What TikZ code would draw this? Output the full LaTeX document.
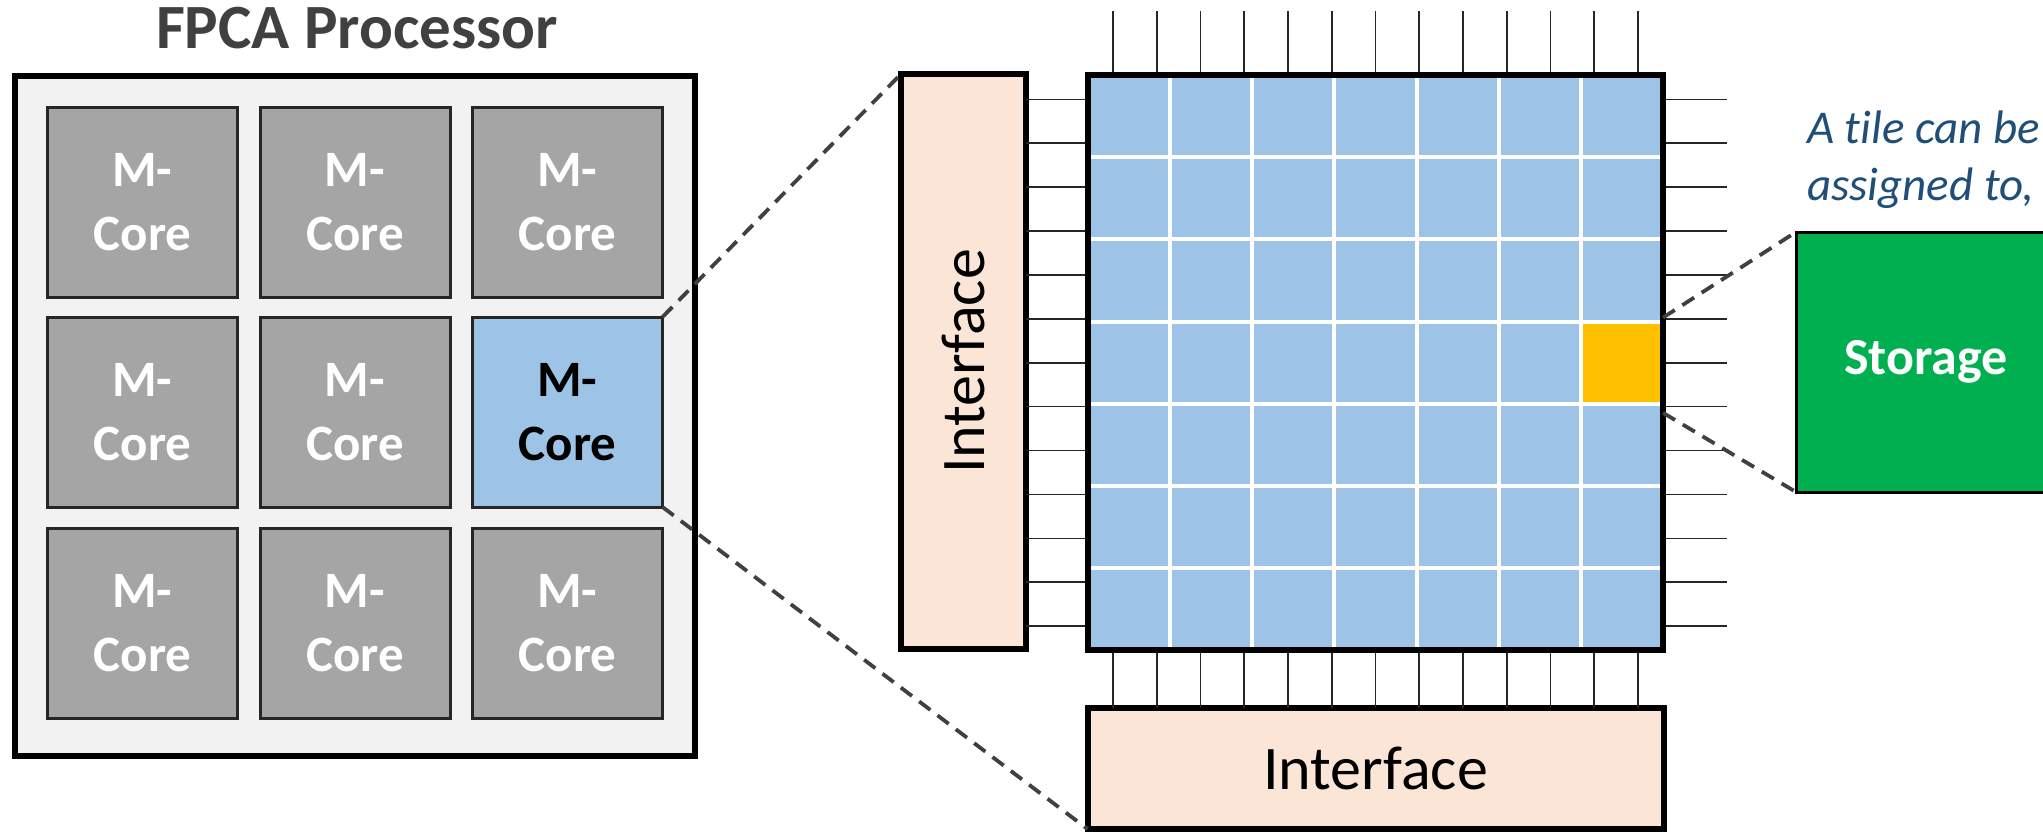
\documentclass[tikz,border=0pt]{standalone}
\usepackage{fontspec}
\setmainfont{Carlito}[Ligatures={TeX,NoCommon}]
\usetikzlibrary{calc}

\definecolor{panel}{HTML}{F2F2F2}
\definecolor{coregray}{HTML}{A5A5A5}
\definecolor{coreblue}{HTML}{9DC3E6}
\definecolor{tileorange}{HTML}{FFC000}
\definecolor{peach}{HTML}{FBE5D6}
\definecolor{storagegreen}{HTML}{00B050}
\definecolor{titlegray}{HTML}{404040}
\definecolor{notecolor}{HTML}{1F4E79}
\definecolor{zoomgray}{HTML}{404040}

\begin{document}
\begin{tikzpicture}[x=1pt,y=-1pt,
  every node/.style={inner sep=0pt, outer sep=0pt},
  thickbox/.style={draw=black, line width=6pt},
  core/.style={draw=black!85, line width=3pt, fill=coregray,
    minimum width=190pt, minimum height=190pt, text=white, align=center,
    font=\fontsize{51}{64}\selectfont\bfseries},
  hotcore/.style={core, fill=coreblue, text=black},
  tile/.style={draw=white, line width=4pt, fill=coreblue,
    minimum width=82.14pt, minimum height=82.2pt},
  iface/.style={thickbox, fill=peach, font=\fontsize{62}{74}\selectfont},
  pinline/.style={draw=black!85, line width=1.6pt},
  zoomline/.style={draw=zoomgray, line width=3.8pt, dash pattern=on 14pt off 9pt},
  note/.style={text=notecolor, anchor=base west, font=\fontsize{47}{57}\selectfont\itshape}
]
\clip (0,0) rectangle (2043,833);

% ---------- processor with its 3x3 cores ----------
\node[anchor=base, text=titlegray, font=\fontsize{63}{74}\selectfont\bfseries]
  (title) at (357,48) {FPCA Processor};
\node[thickbox, fill=panel, minimum width=680.5pt, minimum height=680pt]
  (proc) at (354.75,416) {};
\foreach \r/\cy in {1/202.5,2/412,3/623.5}
  \foreach \c/\cx in {1/142.5,2/355,3/567.5} {
    \ifnum\r\c=23
      \node[hotcore] (c-\r-\c) at (\cx,\cy) {M-\\Core};
    \else
      \node[core] (c-\r-\c) at (\cx,\cy) {M-\\Core};
    \fi
  }

% ---------- enlarged core: 7x7 tile array ----------
\foreach \r in {0,...,6}
  \foreach \c in {0,...,6}
    \node[tile] (t-\r-\c) at ({1088+41.07+82.14*\c},{75+41.1+82.2*\r}) {};
\node[tile, fill=tileorange] (t-3-6) at ({1088+41.07+82.14*6},{75+41.1+82.2*3}) {};
\node[thickbox, minimum width=575pt, minimum height=575.4pt] (grid) at (1375.5,362.7) {};

% interfaces
\node[iface, minimum width=125pt, minimum height=575pt] (lif) at (963.5,361.5) {};
\node[rotate=90, font=\fontsize{62}{74}\selectfont] (liftext) at (lif.center) {Interface};
\node[iface, minimum width=576pt, minimum height=121pt] (bif) at (1375.5,768.5) {Interface};

% pins on all four sides
\foreach \k in {0,...,12} {
  \pgfmathsetmacro{\d}{43.75*(\k-6)}
  \pgfmathsetmacro{\e}{43.9*(\k-6)}
  \draw[pinline] ($(grid.north)+(\d,0)$) -- ++(0,-64);
  \draw[pinline] ($(grid.south)+(\d,0)$) -- ($(bif.north)+(\d,0)$);
  \draw[pinline] ($(grid.west)+(0,\e)$) -- ($(lif.east)+(0,\e+1.2)$);
  \draw[pinline] ($(grid.east)+(0,\e)$) -- ++(64,0);
}
\node[thickbox, minimum width=575pt, minimum height=575.4pt] (gridframe) at (grid.center) {};

% ---------- a single tile as storage ----------
\node[draw=black, line width=3pt, fill=storagegreen, minimum width=260pt,
  minimum height=260pt, text=white, font=\fontsize{52}{62}\selectfont\bfseries]
  (store) at (1926,362) {Storage};
\node[note] (note1) at (1807,143) {A tile can be};
\node[note] (note2) at (1807,200) {assigned to,};

% ---------- zoom guides ----------
\coordinate (tiletop) at ($(t-3-6.north east)+(0,-4)$);
\coordinate (tilebot) at ($(t-3-6.south east)+(0,9)$);
\draw[zoomline] (c-2-3.north east) -- (lif.north west);
\draw[zoomline] (c-2-3.south east) -- (bif.south west);
\draw[zoomline] (tiletop) -- (store.north west);
\draw[zoomline] (tilebot) -- (store.south west);
\end{tikzpicture}
\end{document}
